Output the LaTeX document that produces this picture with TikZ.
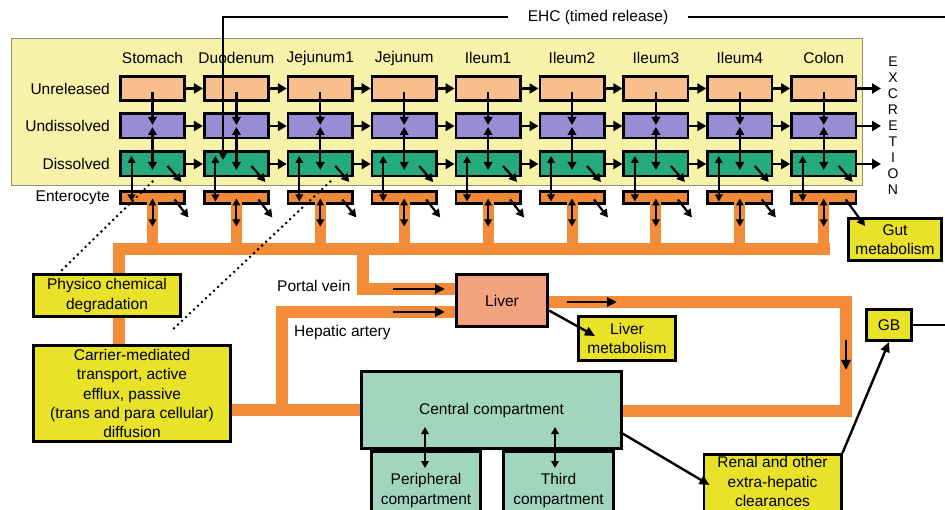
\documentclass[tikz,border=0pt]{standalone}
\usepackage{fontspec}
\setmainfont{Liberation Sans}
\usetikzlibrary{arrows.meta,calc}
\definecolor{bgyel}{RGB}{248,241,170}
\definecolor{peach}{RGB}{248,190,140}
\definecolor{lav}{RGB}{152,141,212}
\definecolor{grn}{RGB}{36,170,124}
\definecolor{ento}{RGB}{240,136,56}
\definecolor{vein}{RGB}{242,140,56}
\definecolor{callout}{RGB}{232,226,40}
\definecolor{liverc}{RGB}{243,162,128}
\definecolor{tealc}{RGB}{162,213,192}
\pgfdeclarelayer{back}
\pgfdeclarelayer{veins}
\pgfsetlayers{back,veins,main}
\tikzset{
  txt/.style={font=\fontsize{15.5}{19.3}\selectfont, inner sep=0pt, align=center},
  cbox/.style={draw, line width=2.6pt, minimum width=64.4pt, minimum height=24.4pt, inner sep=0pt},
  harr/.style={line width=2.6pt, -{Triangle[length=9pt,width=10pt]}},
  varr/.style={line width=2.2pt, -{Triangle[length=8pt,width=8.5pt]}},
  dvarr/.style={line width=2pt, {Triangle[length=7pt,width=7.5pt]}-{Triangle[length=7pt,width=7.5pt]}},
  band/.style={draw=vein, line width=12.5pt, line cap=rect, line join=miter},
  branch/.style={draw=vein, line width=11pt},
  callbox/.style={draw, fill=callout, line width=2.6pt, inner sep=0pt},
  compbox/.style={draw, fill=tealc, line width=2.6pt, inner sep=0pt},
  dots/.style={line width=2.8pt, dash pattern=on 0pt off 5.5pt, line cap=round},
  blarr/.style={line width=2.8pt, -{Triangle[length=10pt,width=9pt]}},
  plain/.style={line width=2.6pt},
}
\begin{document}
\begin{tikzpicture}[x=1pt,y=-1pt]
\clip (0,0) rectangle (945,510);
\begin{pgfonlayer}{back}
\fill[white] (0,0) rectangle (945,510);
\node[draw={rgb,255:red,150;green,148;blue,110}, line width=0.8pt, fill=bgyel, minimum width=851pt, minimum height=147pt, inner sep=0pt] (panel) at (437,111.5) {};
\end{pgfonlayer}

% junction coordinates of the vessels
\coordinate (jL) at (119,249);
\coordinate (jR) at (823.7,249);
\coordinate (jP) at (363,249);
\coordinate (pv) at (363,289);
\coordinate (ha) at (282,312);
\coordinate (hb) at (282,410);
\coordinate (lo1) at (846,302);
\coordinate (lo2) at (846,411);

% callout and organ nodes
\node[callbox, minimum width=147.4pt, minimum height=42.4pt] (phys) at (107,295.5) {};
\node[txt] (physT) at (phys.center) {Physico chemical\\degradation};
\node[callbox, minimum width=197.4pt, minimum height=96.4pt] (carrier) at (132,393.5) {};
\node[txt] (carrierT) at (carrier.center) {Carrier-mediated\\transport, active\\efflux, passive\\(trans and para cellular)\\diffusion};
\node[draw, fill=liverc, line width=2.6pt, minimum width=91.4pt, minimum height=52.4pt, inner sep=0pt] (liver) at (502,300.5) {};
\node[txt] (liverT) at (liver.center) {Liver};
\node[callbox, minimum width=97.4pt, minimum height=44.4pt] (lmet) at (627,338.5) {};
\node[txt] (lmetT) at (lmet.center) {Liver\\metabolism};
\node[callbox, minimum width=45.4pt, minimum height=31.4pt] (gb) at (889,325) {};
\node[txt] (gbT) at (gb.center) {GB};
\node[callbox, minimum width=93.4pt, minimum height=42.4pt] (gut) at (895,239.5) {};
\node[txt] (gutT) at (gut.center) {Gut\\metabolism};
\node[compbox, minimum width=109.4pt, minimum height=80pt, anchor=north] (per) at (426,450) {};
\node[txt] (perT) at (426,490.5) {Peripheral\\compartment};
\node[compbox, minimum width=110.4pt, minimum height=80pt, anchor=north] (third) at (558.5,450) {};
\node[txt] (thirdT) at (558.5,490.5) {Third\\compartment};
\node[compbox, minimum width=260.4pt, minimum height=77.4pt] (central) at (491.5,410) {};
\node[txt] (centralT) at (491.5,410) {Central compartment};
\node[callbox, minimum width=137.4pt, minimum height=80pt, anchor=north] (renal) at (772.5,453) {};
\node[txt] (renalT) at (772.5,481.5) {Renal and other\\extra-hepatic\\clearances};

% vessel labels
\node[txt, anchor=west] (pvl) at (277,286) {Portal vein};
\node[txt, anchor=west] (hal) at (294,332) {Hepatic artery};

% row labels
\node[txt, anchor=east] (lu) at (110,88.5) {Unreleased};
\node[txt, anchor=east] (ld) at (110,126) {Undissolved};
\node[txt, anchor=east] (ls) at (110,164) {Dissolved};
\node[txt, anchor=east] (le) at (110,197.5) {Enterocyte};

% columns
\foreach \i/\nm in {0/Stomach,1/Duodenum,2/Jejunum1,3/Jejunum,4/Ileum1,5/Ileum2,6/Ileum3,7/Ileum4,8/Colon}{
  \pgfmathsetmacro\cx{152.5+83.9*\i}
  \node[txt] (h\i) at (\cx,58) {\nm};
  \node[cbox, fill=peach] (u\i) at (\cx,88.5) {};
  \node[cbox, fill=lav] (d\i) at (\cx,126) {};
  \node[cbox, fill=grn] (s\i) at (\cx,164) {};
  \node[cbox, fill=ento, minimum height=12.5pt] (e\i) at (\cx,197.5) {};
}

% vessels
\begin{pgfonlayer}{veins}
\draw[band] (carrier.north -| jL) -- (jL) -- (jR);
\draw[band] (jP) -- (pv) -- (pv -| liver.west);
\draw[band] (carrier.east |- hb) -- (central.west |- hb);
\draw[band] (hb) -- (ha) -- (ha -| liver.west);
\draw[band] (liver.east |- lo1) -- (lo1) -- (lo2) -- (lo2 -| central.east);
\end{pgfonlayer}
\foreach \i in {0,...,8}{
  \draw[branch] ($(e\i.south)+(0,-4)$) -- (e\i.south |- jL);
}

% transitions along the gut
\foreach \i/\j in {0/1,1/2,2/3,3/4,4/5,5/6,6/7,7/8}{
  \draw[harr] (u\i.east) -- (u\j.west);
  \draw[harr] (d\i.east) -- (d\j.west);
  \draw[harr] (s\i.east) -- (s\j.west);
}
\coordinate (xu) at (881,88.5);
\coordinate (xd) at (881,126);
\coordinate (xs) at (881,164);
\draw[harr] (u8.east) -- (xu);
\draw[harr] (d8.east) -- (xd);
\draw[harr] (s8.east) -- (xs);
\node[font=\fontsize{14}{16}\selectfont, align=center, inner sep=0pt] (excr) at (893,126) {E\\X\\C\\R\\E\\T\\I\\O\\N};

% processes within each segment
\foreach \i in {0,...,8}{
  \draw[varr] ($(u\i.center)+(0,4)$) -- ($(d\i.center)+(0,-1)$);
  \draw[varr] ($(s\i.center)+(0,-3)$) -- ($(d\i.center)+(0,1)$);
  \draw[varr] ($(d\i.center)+(0,4)$) -- ($(s\i.center)+(0,6)$);
  \draw[dvarr] ($(s\i.center)+(-21,-8)$) -- ($(e\i.center)+(-21,4)$);
  \draw[varr] ($(s\i.center)+(15,2)$) -- ($(s\i.center)+(29,18)$);
  \draw[dvarr] ($(e\i.center)+(0,1)$) -- ($(e\i.center)+(0,29)$);
}
\foreach \i in {0,...,7}{
  \draw[varr] ($(e\i.center)+(22,2)$) -- ($(e\i.center)+(36,20)$);
}
\draw[varr] ($(e8.center)+(22,2)$) -- ($(gut.north west)+(18,9)$);

% flow arrows on vessels
\draw[blarr] ($(pv -| liver.west)+(-62,0)$) -- ($(pv -| liver.west)+(-10,0)$);
\draw[blarr] ($(ha -| liver.west)+(-62,0)$) -- ($(ha -| liver.west)+(-10,0)$);
\draw[blarr] ($(liver.east |- lo1)+(18,0)$) -- ($(liver.east |- lo1)+(68,0)$);
\draw[blarr] ($(lo1)+(0,38)$) -- ($(lo1)+(0,68)$);

% clearances
\draw[blarr, line width=2.4pt] ($(liver.east)+(0,10)$) -- ($(lmet.west)+(18,-2.5)$);
\draw[blarr, line width=2.4pt] ($(central.east)+(-3,22)$) -- ($(renal.north west)+(7,32)$);
\draw[blarr, line width=2.4pt] (renal.north east) -- (gb.south);
\draw[dvarr, line width=2.2pt] ($(central.south)+(-66.5,-23)$) -- ($(central.south)+(-66.5,18)$);
\draw[dvarr, line width=2.2pt] ($(central.south)+(63.5,-23)$) -- ($(central.south)+(63.5,18)$);

% dotted links
\draw[dots] ($(s0.south)+(0,4)$) -- ($(phys.north west)+(28,-1)$);
\draw[dots] ($(s2.south)+(10,4)$) -- ($(carrier.north)+(38,-12)$);

% enterohepatic circulation
\coordinate (ehcR) at (950,325);
\coordinate (ehcT) at (950,17);
\coordinate (ehcC) at (223,17);
\coordinate (ehcE) at (223,160);
\node[txt, inner xsep=20pt] (ehc) at (598,17) {EHC (timed release)};
\draw[plain] (gb.east) -- (ehcR);
\draw[plain] (ehcT) -- (ehc.east);
\draw[plain, -{Triangle[length=8pt,width=8.5pt]}] (ehc.west) -- (ehcC) -- (ehcE);
\end{tikzpicture}
\end{document}
